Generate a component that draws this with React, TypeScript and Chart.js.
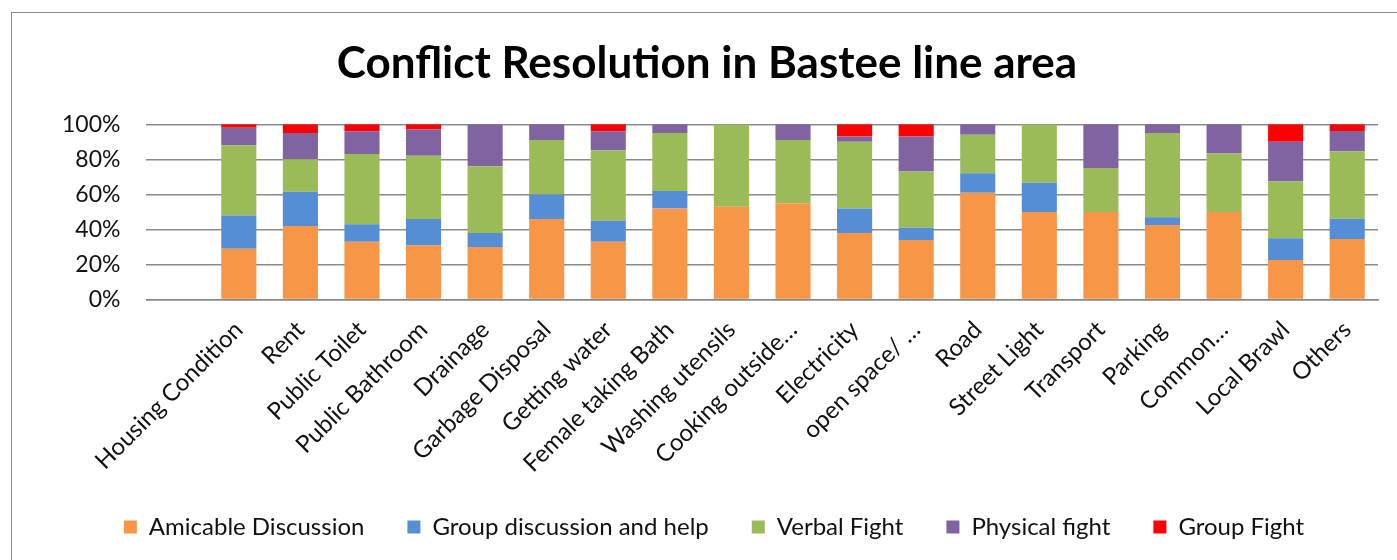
import React, { useEffect, useRef } from "react";
import { Chart, registerables } from "chart.js";

Chart.register(...registerables);

// Issue categories (leading blank slot keeps the first gap on the axis)
const categories: string[] = [
  "",
  "Housing Condition",
  "Rent",
  "Public Toilet",
  "Public Bathroom",
  "Drainage",
  "Garbage Disposal",
  "Getting water",
  "Female taking Bath",
  "Washing utensils",
  "Cooking outside…",
  "Electricity",
  "open space/ …",
  "Road",
  "Street Light",
  "Transport",
  "Parking",
  "Common…",
  "Local Brawl",
  "Others",
];

// Share of each resolution type per issue (%)
const amicableDiscussion: (number | null)[] = [null, 29, 42, 33, 31, 30, 46, 33, 52, 53, 55, 38, 34, 61, 50, 50, 42.5, 50, 22.5, 34.6];
const groupDiscussionAndHelp: (number | null)[] = [null, 19, 19.5, 10, 15, 8, 14, 12, 10, 0, 0, 14, 7, 11, 16.7, 0, 4.5, 0, 12.5, 11.5];
const verbalFight: (number | null)[] = [null, 40, 18.5, 40, 36, 38, 31, 40, 33, 47, 36, 38, 32, 22, 33.3, 25, 48, 33.3, 32.5, 38.5];
const physicalFight: (number | null)[] = [null, 10, 15, 13, 15, 24, 9, 11, 5, 0, 9, 3, 20, 6, 0, 25, 5, 16.7, 22.5, 11.6];
const groupFight: (number | null)[] = [null, 2, 5, 4, 3, 0, 0, 4, 0, 0, 0, 7, 7, 0, 0, 0, 0, 0, 10, 3.8];

const yTicks: number[] = [0, 20, 40, 60, 80, 100];

const FONT = "Lato, 'Open Sans', sans-serif";

// Pulls the legend row up closer to the rotated category labels and nudges it right
const legendLift = {
  id: "legendLift",
  afterLayout(chart: any) {
    const lg = chart.legend;
    if (!lg) return;
    lg.top -= 14;
    lg.bottom -= 14;
    lg.left += 7;
    lg.right += 7;
  },
};

export default function App() {
  const canvasRef = useRef<HTMLCanvasElement | null>(null);

  useEffect(() => {
    if (!canvasRef.current) return;
    const series = [
      { label: "Amicable Discussion", data: amicableDiscussion, color: "#F79646" },
      { label: "Group discussion and help", data: groupDiscussionAndHelp, color: "#558ED5" },
      { label: "Verbal Fight", data: verbalFight, color: "#9BBB59" },
      { label: "Physical fight", data: physicalFight, color: "#8064A2" },
      { label: "Group Fight", data: groupFight, color: "#FF0000" },
    ];

    const chart = new Chart(canvasRef.current, {
      type: "bar",
      data: {
        labels: categories,
        datasets: series.map((s) => ({
          label: s.label,
          data: s.data,
          backgroundColor: s.color,
          borderWidth: 0,
          categoryPercentage: 1,
          barPercentage: 0.57,
        })),
      },
      plugins: [legendLift],
      options: {
        animation: false,
        responsive: false,
        maintainAspectRatio: false,
        layout: { padding: { top: 24, left: 24, right: 31, bottom: 9 } },
        plugins: {
          title: {
            display: true,
            text: "Conflict Resolution in Bastee line area",
            color: "#000",
            font: { family: FONT, size: 44, weight: "bold" },
            padding: { top: 0, bottom: 34.5 },
          },
          legend: {
            position: "bottom",
            labels: {
              color: "#111",
              font: { family: FONT, size: 24 },
              boxWidth: 13,
              boxHeight: 13,
              padding: 43,
            },
          },
          tooltip: { enabled: false },
        },
        scales: {
          x: {
            stacked: true,
            grid: { display: false },
            border: { display: true, color: "#888", width: 1.5 },
            ticks: {
              color: "#111",
              font: { family: FONT, size: 24 },
              minRotation: 45,
              maxRotation: 45,
              autoSkip: false,
              padding: 8,
            },
          },
          y: {
            stacked: true,
            min: 0,
            max: 100,
            afterBuildTicks: (axis: any) => {
              axis.ticks = yTicks.map((v) => ({ value: v }));
            },
            grid: { color: "#8a8a8a", lineWidth: 1.5, drawTicks: false },
            border: { display: false },
            ticks: {
              color: "#111",
              font: { family: FONT, size: 23 },
              padding: 26,
              callback: (v: any) => `${v}%`,
            },
          },
        },
      },
    });
    return () => chart.destroy();
  }, []);

  return (
    <div
      style={{
        position: "fixed",
        left: 11,
        top: 12,
        width: 1398,
        height: 560,
        borderTop: "1px solid #8c8c8c",
        borderLeft: "1px solid #8c8c8c",
        background: "#fff",
      }}
    >
      <canvas ref={canvasRef} width={1397} height={559} style={{ display: "block" }} />
    </div>
  );
}
